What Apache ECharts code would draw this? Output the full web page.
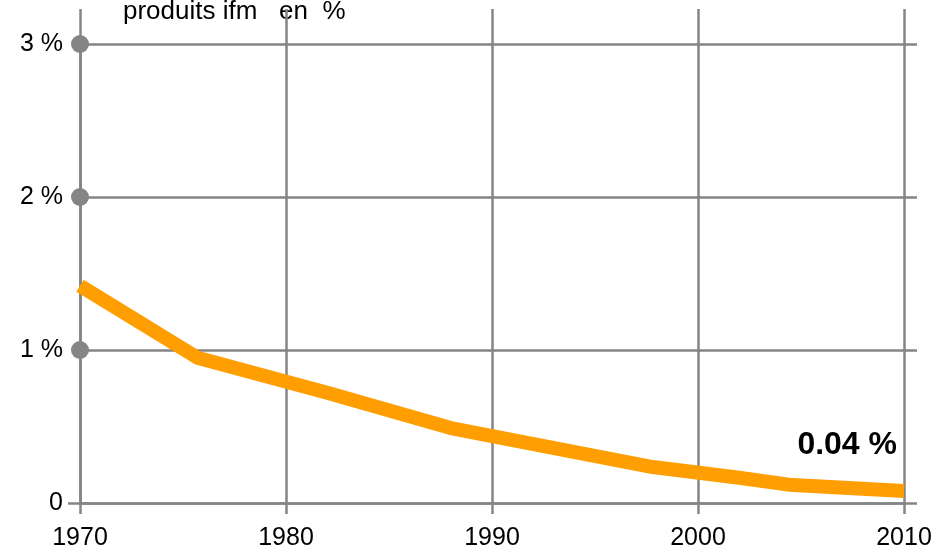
<!DOCTYPE html>
<html>
<head>
<meta charset="utf-8">
<script src="https://cdn.jsdelivr.net/npm/echarts@6/dist/echarts.min.js"></script>
<style>
html,body{margin:0;padding:0;background:#fff;}
#c{width:952px;height:554px;}
</style>
</head>
<body>
<div id="c"></div>
<script>
const titleText = 'produits ifm   en  %';
const years = [1970, 1975.7, 1982, 1988, 1997.8, 2001.9, 2004.4, 2010];
const values = [1.42, 0.95, 0.72, 0.49, 0.235, 0.167, 0.12, 0.078];
const xTicks = [1970, 1980, 1990, 2000, 2010];
const yTickLabels = ['0', '1 %', '2 %', '3 %'];
const dotTicks = [1, 2, 3];
const endLabelText = '0.04 %';

const GREY = '#858585';
const FONT = 'Liberation Sans, Arial, sans-serif';
const LW = 2.5;

const chart = echarts.init(document.getElementById('c'), null, {renderer: 'canvas'});
chart.setOption({
  animation: false,
  backgroundColor: '#fff',
  grid: {left: 80, right: 48, top: 44, bottom: 51, containLabel: false},
  xAxis: [{
    type: 'value', min: 1970, max: 2010, interval: 10, position: 'bottom',
    axisLine: {show: true, onZero: false, lineStyle: {color: GREY, width: LW}},
    axisTick: {show: true, length: 11, lineStyle: {color: GREY, width: LW}},
    splitLine: {show: true, lineStyle: {color: GREY, width: LW}},
    axisLabel: {color: '#000', fontSize: 25, fontFamily: FONT, margin: 23,
      formatter: v => String(v)}
  }, {
    type: 'value', min: 1970, max: 2010, interval: 10, position: 'top',
    axisLine: {show: false, onZero: false},
    axisTick: {show: true, length: 35, lineStyle: {color: GREY, width: LW}},
    splitLine: {show: false},
    axisLabel: {show: false}
  }],
  yAxis: [{
    type: 'value', min: 0, max: 3, interval: 1, position: 'left',
    axisLine: {show: true, onZero: false, lineStyle: {color: GREY, width: LW}},
    axisTick: {show: false},
    splitLine: {show: true, lineStyle: {color: GREY, width: LW}},
    axisLabel: {color: '#000', fontSize: 25, fontFamily: FONT, margin: 17,
      formatter: v => yTickLabels[Math.round(v)]}
  }, {
    type: 'value', min: 0, max: 3, interval: 1, position: 'right',
    axisLine: {show: false, onZero: false},
    axisTick: {show: true, length: 13, lineStyle: {color: GREY, width: LW}},
    splitLine: {show: false},
    axisLabel: {show: false}
  }, {
    type: 'value', min: 0, max: 3, interval: 1, position: 'left',
    axisLine: {show: false, onZero: false},
    axisTick: {show: true, length: 12, customValues: [0], lineStyle: {color: GREY, width: LW}},
    splitLine: {show: false},
    axisLabel: {show: false}
  }],
  series: [{
    type: 'line',
    data: years.map((y, i) => [y, values[i]]),
    showSymbol: false,
    symbol: 'none',
    clip: false,
    lineStyle: {color: '#FF9E00', width: 14, cap: 'butt', join: 'round'},
    z: 5
  }, {
    type: 'scatter',
    data: dotTicks.map(v => [1970, v]),
    symbol: 'circle',
    symbolSize: 18,
    itemStyle: {color: GREY, opacity: 1},
    clip: false,
    z: 6
  }],
  graphic: [{
    type: 'text', left: 123, top: -1, z: -1,
    style: {text: titleText, fill: '#000', font: '26px ' + FONT}
  }, {
    type: 'text', right: 55, top: 429,
    style: {text: endLabelText, fill: '#000', font: 'bold 32px ' + FONT}
  }]
});
</script>
</body>
</html>
